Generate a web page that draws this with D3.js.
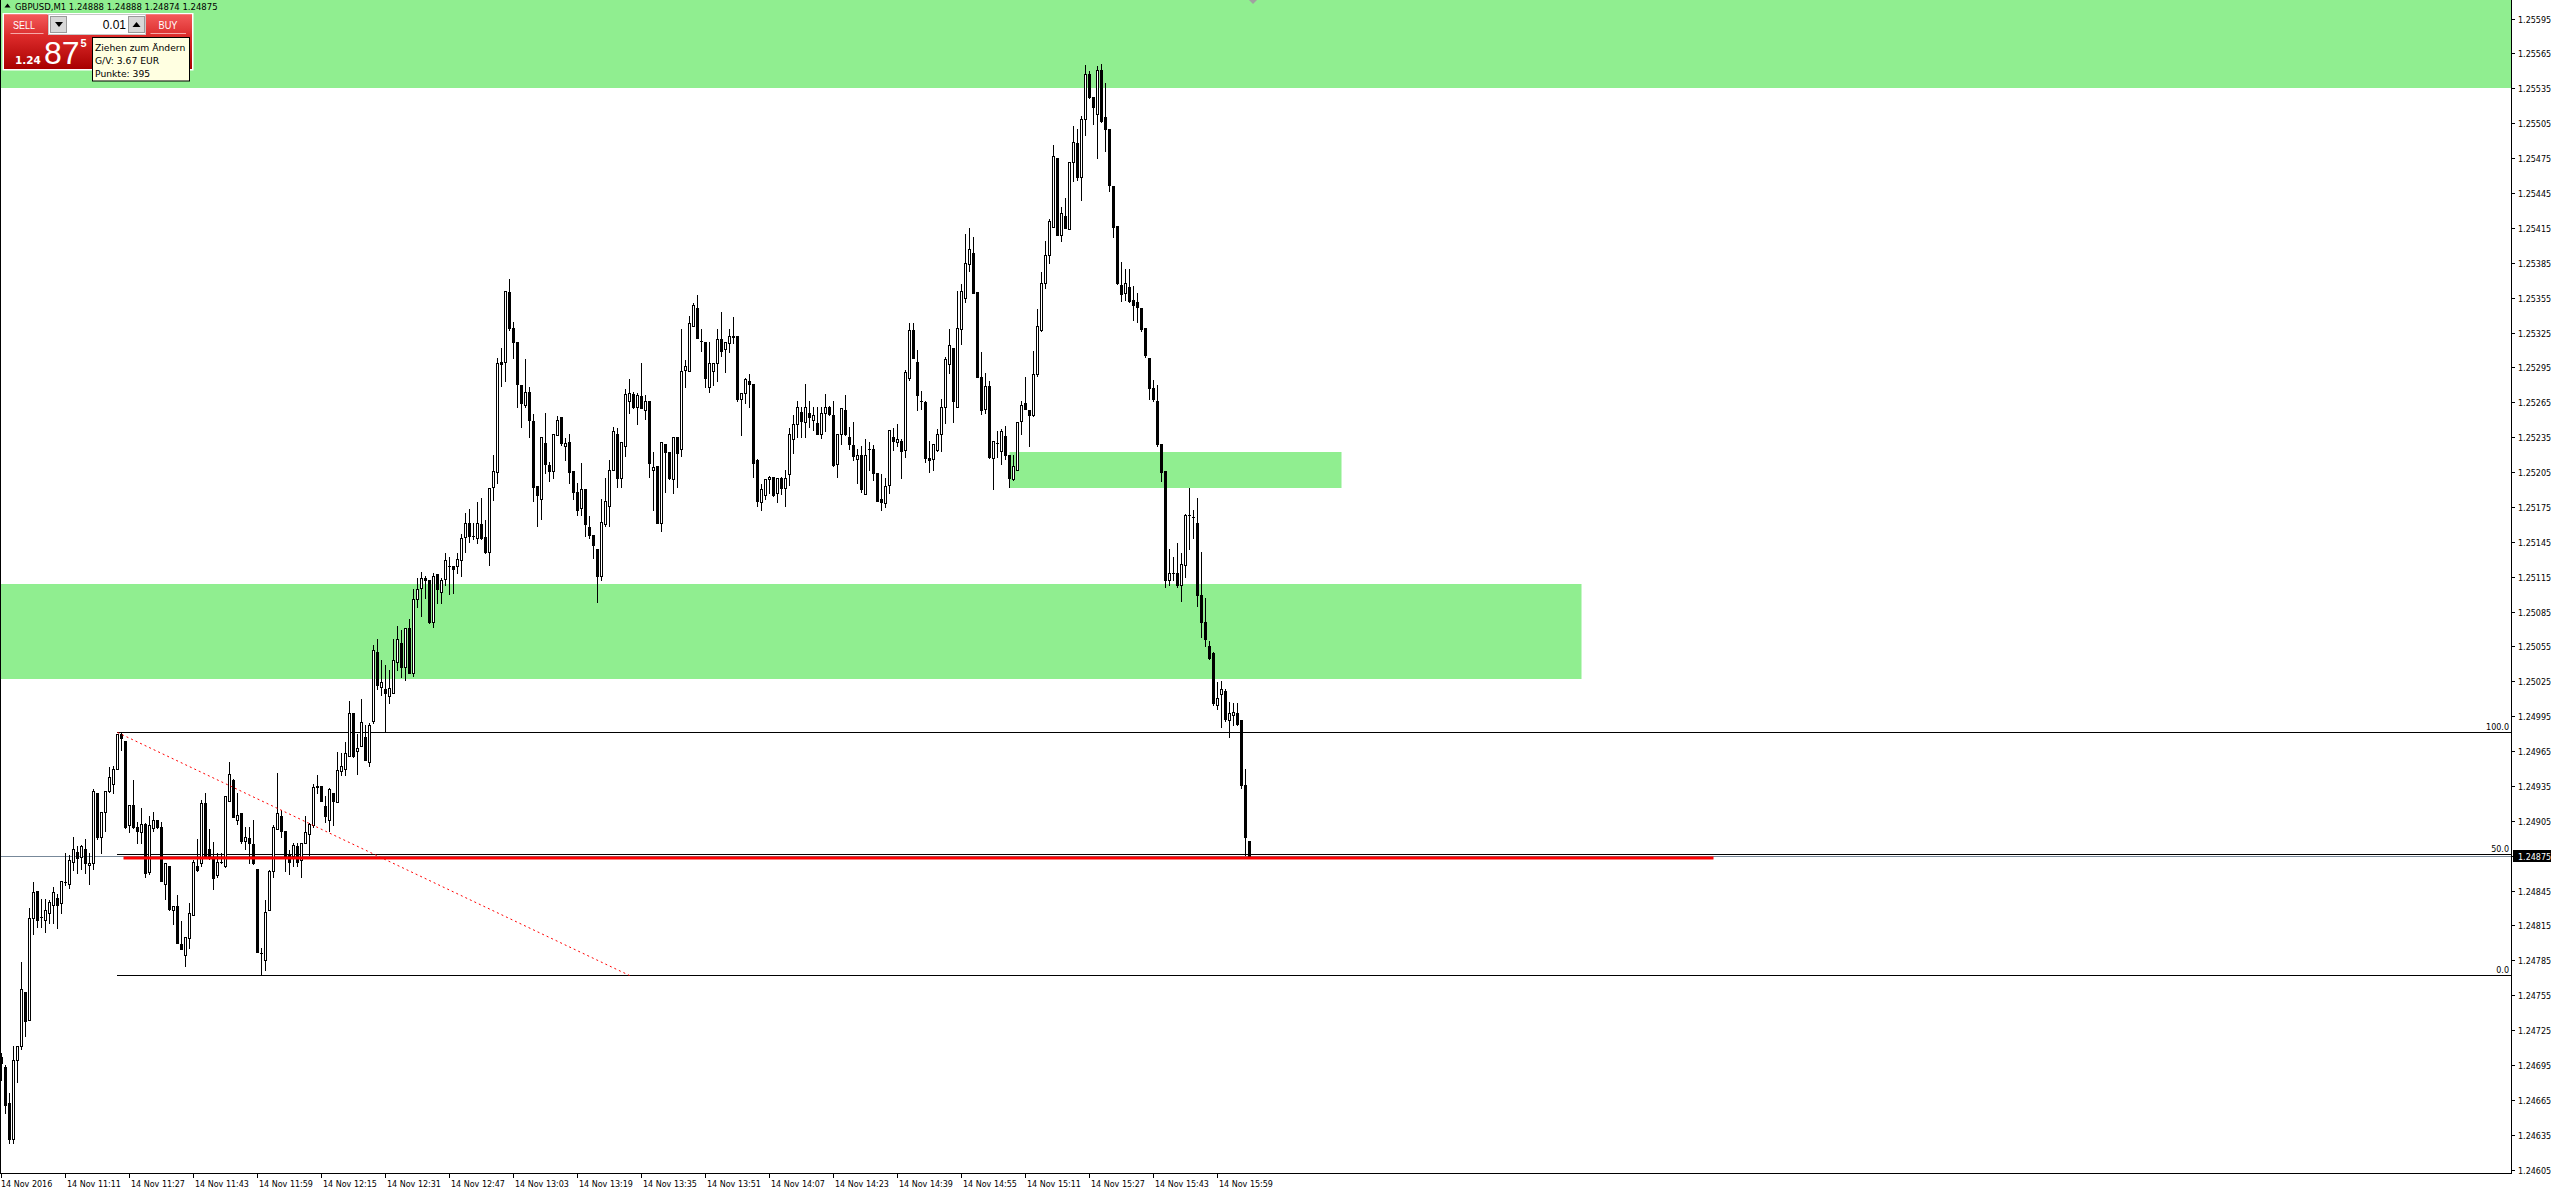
<!DOCTYPE html>
<html><head><meta charset="utf-8">
<script src="https://cdn.jsdelivr.net/npm/d3@7"></script>
<style>html,body{margin:0;padding:0;background:#fff;overflow:hidden}svg{display:block}</style>
</head><body>
<svg id="c" width="2551" height="1193"></svg>
<script>
// ---------------- DATA ----------------
const symbol = "GBPUSD,M1";
const dateLabel = "14 Nov";
const startMinute = 10 * 60 + 55; // first bar 10:55

const opens = [1.24702,1.24693,1.24662,1.24631,1.24699,1.24711,1.24758,1.24734,1.24821,1.24845,1.24822,1.24820,1.24826,1.24833,1.24839,1.24834,1.24852,1.24851,1.24870,1.24878,1.24874,1.24881,1.24867,1.24869,1.24929,1.24891,1.24913,1.24931,1.24937,1.24950,1.24980,1.24974,1.24901,1.24919,1.24900,1.24895,1.24902,1.24861,1.24899,1.24906,1.24900,1.24851,1.24866,1.24828,1.24832,1.24799,1.24790,1.24804,1.24824,1.24866,1.24869,1.24920,1.24881,1.24874,1.24858,1.24870,1.24866,1.24922,1.24940,1.24906,1.24912,1.24888,1.24890,1.24885,1.24864,1.24791,1.24785,1.24828,1.24862,1.24898,1.24909,1.24896,1.24876,1.24875,1.24883,1.24871,1.24886,1.24894,1.24901,1.24935,1.24935,1.24918,1.24906,1.24929,1.24921,1.24948,1.24950,1.24961,1.24998,1.24965,1.24969,1.24977,1.24956,1.24991,1.25050,1.25020,1.25018,1.25012,1.25015,1.25042,1.25058,1.25037,1.25071,1.25032,1.25096,1.25105,1.25114,1.25112,1.25076,1.25117,1.25102,1.25113,1.25124,1.25124,1.25124,1.25129,1.25149,1.25161,1.25150,1.25148,1.25160,1.25149,1.25136,1.25192,1.25205,1.25300,1.25300,1.25360,1.25329,1.25317,1.25280,1.25263,1.25274,1.25249,1.25193,1.25182,1.25230,1.25211,1.25206,1.25237,1.25252,1.25227,1.25231,1.25206,1.25188,1.25174,1.25190,1.25158,1.25151,1.25139,1.25116,1.25160,1.25176,1.25207,1.25238,1.25200,1.25227,1.25266,1.25272,1.25261,1.25270,1.25258,1.25266,1.25207,1.25210,1.25161,1.25229,1.25222,1.25199,1.25235,1.25225,1.25293,1.25292,1.25331,1.25346,1.25318,1.25317,1.25278,1.25292,1.25299,1.25319,1.25311,1.25316,1.25322,1.25322,1.25268,1.25273,1.25283,1.25281,1.25215,1.25179,1.25185,1.25199,1.25201,1.25187,1.25200,1.25191,1.25203,1.25233,1.25246,1.25257,1.25248,1.25256,1.25250,1.25247,1.25238,1.25256,1.25261,1.25254,1.25212,1.25238,1.25258,1.25235,1.25228,1.25216,1.25220,1.25186,1.25225,1.25225,1.25204,1.25182,1.25178,1.25194,1.25235,1.25231,1.25232,1.25224,1.25286,1.25327,1.25300,1.25266,1.25265,1.25217,1.25216,1.25224,1.25238,1.25261,1.25298,1.25312,1.25261,1.25328,1.25355,1.25384,1.25393,1.25360,1.25287,1.25259,1.25279,1.25217,1.25230,1.25223,1.25236,1.25220,1.25199,1.25207,1.25249,1.25264,1.25258,1.25254,1.25289,1.25327,1.25368,1.25392,1.25416,1.25475,1.25409,1.25425,1.25414,1.25472,1.25488,1.25459,1.25509,1.25547,1.25528,1.25513,1.25551,1.25510,1.25500,1.25451,1.25417,1.25366,1.25359,1.25364,1.25353,1.25351,1.25346,1.25329,1.25303,1.25277,1.25266,1.25229,1.25206,1.25112,1.25118,1.25118,1.25108,1.25125,1.25168,1.25166,1.25161,1.25099,1.25076,1.25055,1.25049,1.25005,1.25014,1.25017,1.24992,1.24996,1.24998,1.24992,1.24936,1.24888];
const highs = [1.24705,1.24695,1.24671,1.24711,1.24711,1.24784,1.24758,1.24830,1.24852,1.24845,1.24838,1.24838,1.24837,1.24848,1.24842,1.24853,1.24877,1.24876,1.24891,1.24883,1.24884,1.24889,1.24877,1.24932,1.24929,1.24913,1.24931,1.24951,1.24952,1.24980,1.24981,1.24974,1.24919,1.24940,1.24904,1.24916,1.24903,1.24909,1.24913,1.24906,1.24904,1.24869,1.24866,1.24832,1.24841,1.24819,1.24805,1.24834,1.24871,1.24889,1.24923,1.24929,1.24898,1.24887,1.24877,1.24877,1.24926,1.24956,1.24941,1.24929,1.24912,1.24900,1.24900,1.24906,1.24864,1.24796,1.24837,1.24863,1.24901,1.24946,1.24914,1.24896,1.24880,1.24886,1.24886,1.24886,1.24909,1.24903,1.24937,1.24944,1.24935,1.24926,1.24933,1.24929,1.24964,1.24963,1.24973,1.25008,1.24998,1.24980,1.25010,1.24987,1.24989,1.25056,1.25061,1.25043,1.25039,1.25035,1.25061,1.25073,1.25069,1.25071,1.25079,1.25104,1.25114,1.25119,1.25116,1.25112,1.25118,1.25117,1.25114,1.25135,1.25132,1.25124,1.25135,1.25152,1.25170,1.25173,1.25161,1.25179,1.25183,1.25164,1.25191,1.25220,1.25303,1.25312,1.25361,1.25371,1.25334,1.25317,1.25280,1.25302,1.25278,1.25255,1.25193,1.25235,1.25256,1.25214,1.25238,1.25253,1.25252,1.25234,1.25238,1.25206,1.25196,1.25213,1.25190,1.25167,1.25151,1.25139,1.25182,1.25200,1.25215,1.25244,1.25243,1.25231,1.25276,1.25285,1.25274,1.25273,1.25299,1.25271,1.25266,1.25222,1.25210,1.25231,1.25229,1.25222,1.25235,1.25235,1.25328,1.25301,1.25339,1.25350,1.25357,1.25328,1.25317,1.25317,1.25299,1.25328,1.25343,1.25317,1.25328,1.25338,1.25322,1.25273,1.25286,1.25289,1.25281,1.25216,1.25195,1.25199,1.25202,1.25201,1.25200,1.25201,1.25207,1.25243,1.25254,1.25266,1.25261,1.25281,1.25266,1.25261,1.25261,1.25261,1.25272,1.25262,1.25266,1.25238,1.25260,1.25271,1.25244,1.25248,1.25225,1.25227,1.25233,1.25231,1.25228,1.25204,1.25203,1.25200,1.25241,1.25243,1.25246,1.25233,1.25293,1.25333,1.25333,1.25310,1.25275,1.25266,1.25232,1.25229,1.25242,1.25268,1.25304,1.25328,1.25312,1.25361,1.25367,1.25410,1.25415,1.25407,1.25360,1.25308,1.25290,1.25283,1.25232,1.25240,1.25242,1.25245,1.25220,1.25220,1.25248,1.25266,1.25287,1.25258,1.25309,1.25345,1.25377,1.25404,1.25423,1.25486,1.25475,1.25433,1.25441,1.25472,1.25503,1.25500,1.25511,1.25555,1.25550,1.25528,1.25554,1.25556,1.25540,1.25500,1.25451,1.25417,1.25386,1.25380,1.25380,1.25365,1.25359,1.25346,1.25329,1.25303,1.25284,1.25280,1.25229,1.25206,1.25139,1.25132,1.25144,1.25135,1.25169,1.25191,1.25172,1.25183,1.25136,1.25097,1.25060,1.25050,1.25024,1.25025,1.25018,1.25007,1.25006,1.25006,1.24992,1.24950,1.24888];
const lows = [1.24682,1.24654,1.24628,1.24628,1.24680,1.24709,1.24720,1.24734,1.24808,1.24814,1.24814,1.24809,1.24817,1.24817,1.24813,1.24826,1.24850,1.24847,1.24863,1.24860,1.24864,1.24860,1.24851,1.24864,1.24889,1.24877,1.24896,1.24930,1.24929,1.24950,1.24966,1.24899,1.24895,1.24899,1.24886,1.24886,1.24857,1.24859,1.24896,1.24899,1.24853,1.24838,1.24828,1.24816,1.24800,1.24795,1.24780,1.24796,1.24824,1.24862,1.24866,1.24874,1.24872,1.24846,1.24857,1.24869,1.24865,1.24922,1.24908,1.24902,1.24886,1.24881,1.24869,1.24868,1.24792,1.24773,1.24777,1.24828,1.24857,1.24898,1.24891,1.24862,1.24859,1.24866,1.24866,1.24857,1.24886,1.24876,1.24900,1.24929,1.24922,1.24904,1.24896,1.24901,1.24921,1.24944,1.24944,1.24961,1.24960,1.24945,1.24969,1.24957,1.24952,1.24989,1.25018,1.25013,1.24982,1.25006,1.25015,1.25035,1.25029,1.25026,1.25032,1.25030,1.25089,1.25081,1.25097,1.25075,1.25072,1.25092,1.25092,1.25108,1.25100,1.25101,1.25118,1.25116,1.25136,1.25145,1.25147,1.25144,1.25147,1.25135,1.25125,1.25181,1.25196,1.25279,1.25283,1.25327,1.25303,1.25261,1.25244,1.25261,1.25235,1.25180,1.25159,1.25165,1.25204,1.25197,1.25200,1.25237,1.25228,1.25215,1.25196,1.25182,1.25168,1.25168,1.25150,1.25148,1.25131,1.25093,1.25112,1.25159,1.25159,1.25207,1.25192,1.25192,1.25219,1.25256,1.25260,1.25246,1.25260,1.25251,1.25201,1.25172,1.25161,1.25154,1.25188,1.25199,1.25187,1.25192,1.25219,1.25278,1.25292,1.25331,1.25320,1.25309,1.25278,1.25274,1.25280,1.25283,1.25305,1.25291,1.25308,1.25316,1.25266,1.25237,1.25264,1.25261,1.25201,1.25176,1.25172,1.25182,1.25187,1.25184,1.25179,1.25186,1.25176,1.25194,1.25221,1.25235,1.25235,1.25235,1.25244,1.25241,1.25238,1.25234,1.25240,1.25254,1.25210,1.25201,1.25229,1.25237,1.25225,1.25215,1.25196,1.25188,1.25186,1.25207,1.25198,1.25180,1.25172,1.25175,1.25187,1.25224,1.25227,1.25200,1.25218,1.25284,1.25303,1.25258,1.25259,1.25214,1.25205,1.25207,1.25223,1.25223,1.25247,1.25290,1.25248,1.25261,1.25315,1.25351,1.25378,1.25359,1.25287,1.25255,1.25256,1.25217,1.25190,1.25218,1.25212,1.25216,1.25192,1.25198,1.25207,1.25238,1.25259,1.25227,1.25253,1.25288,1.25326,1.25363,1.25385,1.25416,1.25409,1.25404,1.25415,1.25414,1.25455,1.25456,1.25439,1.25495,1.25527,1.25504,1.25475,1.25506,1.25481,1.25447,1.25407,1.25367,1.25352,1.25353,1.25351,1.25336,1.25334,1.25326,1.25304,1.25268,1.25266,1.25227,1.25197,1.25106,1.25108,1.25112,1.25106,1.25094,1.25115,1.25139,1.25148,1.25090,1.25063,1.25055,1.25044,1.25005,1.25001,1.24986,1.24991,1.24977,1.24987,1.24987,1.24933,1.24876,1.24874];
const closes = [1.24697,1.24661,1.24631,1.24699,1.24711,1.24760,1.24733,1.24821,1.24844,1.24820,1.24822,1.24828,1.24835,1.24844,1.24833,1.24853,1.24852,1.24871,1.24881,1.24873,1.24883,1.24869,1.24869,1.24931,1.24891,1.24913,1.24931,1.24943,1.24950,1.24980,1.24976,1.24900,1.24919,1.24900,1.24896,1.24902,1.24860,1.24901,1.24906,1.24900,1.24853,1.24869,1.24829,1.24832,1.24800,1.24795,1.24805,1.24826,1.24870,1.24863,1.24920,1.24875,1.24873,1.24856,1.24870,1.24870,1.24926,1.24945,1.24908,1.24910,1.24888,1.24891,1.24886,1.24869,1.24792,1.24791,1.24827,1.24862,1.24900,1.24912,1.24896,1.24875,1.24870,1.24884,1.24870,1.24886,1.24895,1.24902,1.24934,1.24934,1.24922,1.24909,1.24932,1.24922,1.24949,1.24952,1.24963,1.24998,1.24961,1.24968,1.24990,1.24957,1.24987,1.25052,1.25022,1.25024,1.25015,1.25019,1.25043,1.25061,1.25037,1.25071,1.25032,1.25096,1.25104,1.25114,1.25112,1.25076,1.25116,1.25104,1.25112,1.25129,1.25124,1.25122,1.25130,1.25148,1.25161,1.25150,1.25150,1.25161,1.25148,1.25136,1.25191,1.25206,1.25299,1.25298,1.25361,1.25329,1.25317,1.25281,1.25264,1.25274,1.25250,1.25192,1.25185,1.25235,1.25212,1.25206,1.25238,1.25250,1.25230,1.25230,1.25205,1.25188,1.25172,1.25190,1.25160,1.25151,1.25142,1.25116,1.25162,1.25180,1.25207,1.25240,1.25200,1.25231,1.25272,1.25273,1.25261,1.25271,1.25260,1.25266,1.25213,1.25209,1.25161,1.25231,1.25222,1.25200,1.25235,1.25221,1.25292,1.25296,1.25333,1.25349,1.25320,1.25318,1.25286,1.25299,1.25299,1.25319,1.25309,1.25317,1.25322,1.25321,1.25268,1.25273,1.25285,1.25281,1.25213,1.25180,1.25190,1.25199,1.25201,1.25185,1.25200,1.25191,1.25200,1.25238,1.25246,1.25261,1.25249,1.25261,1.25252,1.25254,1.25238,1.25256,1.25261,1.25255,1.25211,1.25238,1.25260,1.25238,1.25229,1.25219,1.25220,1.25190,1.25220,1.25225,1.25204,1.25180,1.25179,1.25193,1.25241,1.25232,1.25233,1.25223,1.25291,1.25327,1.25303,1.25271,1.25266,1.25217,1.25215,1.25229,1.25238,1.25261,1.25302,1.25314,1.25266,1.25329,1.25361,1.25385,1.25397,1.25359,1.25287,1.25258,1.25279,1.25218,1.25232,1.25230,1.25240,1.25220,1.25200,1.25210,1.25248,1.25263,1.25259,1.25254,1.25289,1.25331,1.25368,1.25392,1.25421,1.25477,1.25409,1.25428,1.25415,1.25472,1.25489,1.25459,1.25509,1.25547,1.25528,1.25519,1.25551,1.25507,1.25500,1.25452,1.25416,1.25368,1.25358,1.25368,1.25352,1.25349,1.25347,1.25328,1.25306,1.25277,1.25268,1.25229,1.25205,1.25112,1.25118,1.25118,1.25108,1.25126,1.25168,1.25168,1.25166,1.25099,1.25076,1.25061,1.25045,1.25006,1.25011,1.25018,1.24993,1.24998,1.24999,1.24988,1.24936,1.24891,1.24875];

const priceTicks = [1.24605,1.24635,1.24665,1.24695,1.24725,1.24755,1.24785,1.24815,1.24845,1.24875,1.24905,1.24935,1.24965,1.24995,1.25025,1.25055,1.25085,1.25115,1.25145,1.25175,1.25205,1.25235,1.25265,1.25295,1.25325,1.25355,1.25385,1.25415,1.25445,1.25475,1.25505,1.25535,1.25565,1.25595];
const timeTickBars = [0,16,32,48,64,80,96,112,128,144,160,176,192,208,224,240,256,272,288,304];
const timeTickLabels = ["14 Nov 2016","14 Nov 11:11","14 Nov 11:27","14 Nov 11:43","14 Nov 11:59","14 Nov 12:15","14 Nov 12:31","14 Nov 12:47","14 Nov 13:03","14 Nov 13:19","14 Nov 13:35","14 Nov 13:51","14 Nov 14:07","14 Nov 14:23","14 Nov 14:39","14 Nov 14:55","14 Nov 15:11","14 Nov 15:27","14 Nov 15:43","14 Nov 15:59"];

// supply / demand zones (price top, price bottom, from bar, to bar)
const zoneTop    = [1.25700, 1.25222, 1.25109];
const zoneBottom = [1.25535, 1.25191, 1.25027];
const zoneFrom   = [-50, 252, -50];
const zoneTo     = [700, 335, 395];

// fibonacci retracement anchors
const fibBars   = [29, 157];
const fibPrices = [1.24981, 1.24772];
const fibLevels = [0, 50, 100];

// thick red horizontal line
const redLinePrice = 1.24873;
const redLineBars  = [30.5, 428];

const bidPrice = 1.24875;
const lotSize = "0.01";
const tipLines = ["Ziehen zum Ändern", "G/V: 3.67 EUR", "Punkte: 395"];

// ---------------- DRAW ----------------
const svg = d3.select("#c");
const plotR = 2512, plotB = 1173;
const x = d3.scaleLinear().domain([0, 627.625]).range([1.5, plotR]);
const y = d3.scaleLinear().domain([1.246021, 1.25611]).range([plotB, 0]);
const FONT = "DejaVu Sans, Verdana, sans-serif";

const defs = svg.append("defs");
defs.append("clipPath").attr("id","plot").append("rect").attr("x",0).attr("y",0).attr("width",plotR-0.5).attr("height",plotB);

const plot = svg.append("g").attr("clip-path","url(#plot)");

// zones
plot.selectAll("rect.zone").data(zoneTop.map((t,k)=>({t,b:zoneBottom[k],f:zoneFrom[k],e:zoneTo[k]})))
  .join("rect").attr("class","zone")
  .attr("x", d=>x(d.f)).attr("width", d=>x(d.e)-x(d.f))
  .attr("y", d=>Math.round(y(d.t))).attr("height", d=>Math.round(y(d.b))-Math.round(y(d.t)))
  .attr("fill","#90EE90");

// fib levels
const fibLevelPrice = l => fibPrices[1] + (fibPrices[0]-fibPrices[1]) * l / 100;
plot.selectAll("line.fib").data(fibLevels).join("line").attr("class","fib")
  .attr("x1", x(fibBars[0])-0.5).attr("x2", plotR)
  .attr("y1", d=>Math.round(y(fibLevelPrice(d)))+0.5).attr("y2", d=>Math.round(y(fibLevelPrice(d)))+0.5)
  .attr("stroke","#000").attr("stroke-width",1);

// bid line
const by = Math.round(y(bidPrice)) + 0.5;
plot.append("line").attr("x1",0).attr("x2",plotR).attr("y1",by).attr("y2",by)
  .attr("stroke","#778899").attr("stroke-width",1);

// candles
const bars = opens.map((o,i)=>({i,o,h:highs[i],l:lows[i],c:closes[i]}));
const cg = plot.append("g");
cg.selectAll("rect.wick").data(bars).join("rect").attr("class","wick")
  .attr("x", d=>Math.floor(x(d.i)))
  .attr("width",1)
  .attr("y", d=>Math.round(y(d.h)))
  .attr("height", d=>Math.max(1, Math.round(y(d.l))-Math.round(y(d.h))+1))
  .attr("fill","#000");
cg.selectAll("rect.body").data(bars).join("rect").attr("class","body")
  .each(function(d){
    const top = Math.round(y(Math.max(d.o,d.c))), bot = Math.round(y(Math.min(d.o,d.c)));
    const left = Math.floor(x(d.i)) - 1;
    const s = d3.select(this);
    if (d.c > d.o && bot - top >= 1) {
      s.attr("x", left+0.5).attr("y", top+0.5).attr("width",2).attr("height", bot-top)
       .attr("fill","#fff").attr("stroke","#000").attr("stroke-width",1);
    } else {
      s.attr("x", left).attr("y", top).attr("width",3).attr("height", Math.max(1, bot-top+1)).attr("fill","#000");
    }
  });

// fib trend line (red dotted)
plot.append("line")
  .attr("x1", x(fibBars[0])).attr("y1", y(fibPrices[0]))
  .attr("x2", x(fibBars[1])).attr("y2", y(fibPrices[1]))
  .attr("stroke","#ff0000").attr("stroke-width",1).attr("stroke-dasharray","2,3");

// red thick line
const ry = y(redLinePrice);
plot.append("line").attr("x1", x(redLineBars[0])).attr("x2", x(redLineBars[1]))
  .attr("y1", ry).attr("y2", ry).attr("stroke","#ff0000").attr("stroke-width",3);

// fib level labels
svg.selectAll("text.fibl").data(fibLevels).join("text").attr("class","fibl")
  .attr("x", plotR-3).attr("y", d=>Math.round(y(fibLevelPrice(d)))-2)
  .attr("text-anchor","end").attr("font-family",FONT).attr("font-size",8).attr("fill","#000")
  .text(d=>d.toFixed(1));

// frame
svg.append("line").attr("x1",0.5).attr("x2",0.5).attr("y1",0).attr("y2",plotB+1).attr("stroke","#000");
svg.append("line").attr("x1",plotR-0.5).attr("x2",plotR-0.5).attr("y1",0).attr("y2",plotB+1).attr("stroke","#000");
svg.append("line").attr("x1",0).attr("x2",plotR).attr("y1",plotB+0.5).attr("y2",plotB+0.5).attr("stroke","#000");

// right axis
const ra = svg.append("g");
priceTicks.forEach(p=>{
  const ty = Math.round(y(p)) + 0.5;
  ra.append("line").attr("x1",plotR).attr("x2",plotR+3).attr("y1",ty).attr("y2",ty).attr("stroke","#000");
  ra.append("text").attr("x",plotR+6).attr("y",ty+3).attr("font-family",FONT).attr("font-size",8)
    .attr("fill","#000").text(p.toFixed(5));
});
// bid label
ra.append("rect").attr("x",plotR+1).attr("y",by-6.5).attr("width",2551-plotR-1).attr("height",12).attr("fill","#000");
ra.append("text").attr("x",plotR+6).attr("y",by+3).attr("font-family",FONT).attr("font-size",8)
  .attr("fill","#fff").text(bidPrice.toFixed(5));

// bottom axis
const ba = svg.append("g");
timeTickBars.forEach((b,k)=>{
  const tx = Math.floor(x(b)) + 0.5;
  ba.append("line").attr("x1",tx).attr("x2",tx).attr("y1",plotB+1).attr("y2",plotB+5).attr("stroke","#000");
  ba.append("text").attr("x", k===0 ? 1 : tx+1.5).attr("y",plotB+14).attr("font-family",FONT).attr("font-size",8)
    .attr("fill","#000").text(timeTickLabels[k]);
});

// chart shift marker
svg.append("path").attr("d","M1249,0 L1257,0 L1253,4 Z").attr("fill","#a0a0a0");

// title
const last = bars.length-1;
svg.append("path").attr("d","M4.5,7.5 L7.5,3.5 L10.5,7.5 Z").attr("fill","#000");
svg.append("text").attr("x",15).attr("y",9.5).attr("font-family",FONT).attr("font-size",8.5).attr("fill","#000")
  .text(`${symbol}  ${opens[last].toFixed(5)} ${highs[last].toFixed(5)} ${lows[last].toFixed(5)} ${closes[last].toFixed(5)}`);

// one-click trading panel
const pg = defs.append("linearGradient").attr("id","redg").attr("x1",0).attr("x2",0).attr("y1",0).attr("y2",1);
pg.append("stop").attr("offset","0%").attr("stop-color","#ee4a4a");
pg.append("stop").attr("offset","40%").attr("stop-color","#dc2a2a");
pg.append("stop").attr("offset","100%").attr("stop-color","#a80000");
const tg = defs.append("linearGradient").attr("id","redt").attr("x1",0).attr("x2",0).attr("y1",0).attr("y2",1);
tg.append("stop").attr("offset","0%").attr("stop-color","#f45a5a");
tg.append("stop").attr("offset","100%").attr("stop-color","#dc3030");

const panel = svg.append("g");
panel.append("rect").attr("x",2.5).attr("y",13).attr("width",191).attr("height",57.5).attr("fill","#fff");
panel.append("rect").attr("x",4).attr("y",14.5).attr("width",188).attr("height",54.5).attr("fill","url(#redg)");
panel.append("rect").attr("x",4).attr("y",14.5).attr("width",43).attr("height",20).attr("fill","url(#redt)");
panel.append("rect").attr("x",146).attr("y",14.5).attr("width",46).attr("height",20).attr("fill","url(#redt)");
// lot field
panel.append("rect").attr("x",48.5).attr("y",14.5).attr("width",97).attr("height",20).attr("fill","#fff").attr("stroke","#c8c8c8");
panel.append("rect").attr("x",50.5).attr("y",16.5).attr("width",16).attr("height",16).attr("fill","#d8d8d8").attr("stroke","#9a9a9a");
panel.append("rect").attr("x",128.5).attr("y",16.5).attr("width",16).attr("height",16).attr("fill","#d8d8d8").attr("stroke","#9a9a9a");
panel.append("path").attr("d","M55,22 L63,22 L59,27 Z").attr("fill","#000");
panel.append("path").attr("d","M132.5,27 L140.5,27 L136.5,22 Z").attr("fill","#000");
panel.append("text").attr("x",126).attr("y",29).attr("text-anchor","end").attr("font-family","Liberation Sans, Arial, sans-serif")
  .attr("font-size",12).attr("fill","#000").text(lotSize);
// SELL / BUY
panel.append("text").attr("x",24).attr("y",29).attr("text-anchor","middle").attr("font-family","Liberation Sans, Arial, sans-serif")
  .attr("font-size",11).attr("fill","#fff").attr("textLength",22).attr("lengthAdjust","spacingAndGlyphs").text("SELL");
panel.append("text").attr("x",168).attr("y",29).attr("text-anchor","middle").attr("font-family","Liberation Sans, Arial, sans-serif")
  .attr("font-size",11).attr("fill","#fff").attr("textLength",19).attr("lengthAdjust","spacingAndGlyphs").text("BUY");
panel.append("line").attr("x1",10.5).attr("x2",43.5).attr("y1",33.5).attr("y2",33.5).attr("stroke","#f7a8a8");
panel.append("line").attr("x1",150.5).attr("x2",186).attr("y1",33.5).attr("y2",33.5).attr("stroke","#f7a8a8");
// big price
const bidStr = closes[last].toFixed(5); // 1.24875
panel.append("text").attr("x",15).attr("y",64).attr("font-family",FONT).attr("font-weight","bold")
  .attr("font-size",10.5).attr("fill","#fff").text(bidStr.slice(0,4));
panel.append("text").attr("x",44).attr("y",63.5).attr("font-family","Liberation Sans, Arial, sans-serif")
  .attr("font-size",32).attr("fill","#fff").text(bidStr.slice(4,6));
panel.append("text").attr("x",80.5).attr("y",47).attr("font-family","Liberation Sans, Arial, sans-serif").attr("font-weight","bold")
  .attr("font-size",11).attr("fill","#fff").text(bidStr.slice(6));
// tooltip
panel.append("rect").attr("x",92.5).attr("y",37.5).attr("width",97).attr("height",43.5).attr("fill","#ffffe1").attr("stroke","#000");
tipLines.forEach((t,k)=>{
  panel.append("text").attr("x",95).attr("y",51+k*12.8).attr("font-family",FONT).attr("font-size",9.2)
    .attr("fill","#000").text(t);
});
</script>
</body></html>
